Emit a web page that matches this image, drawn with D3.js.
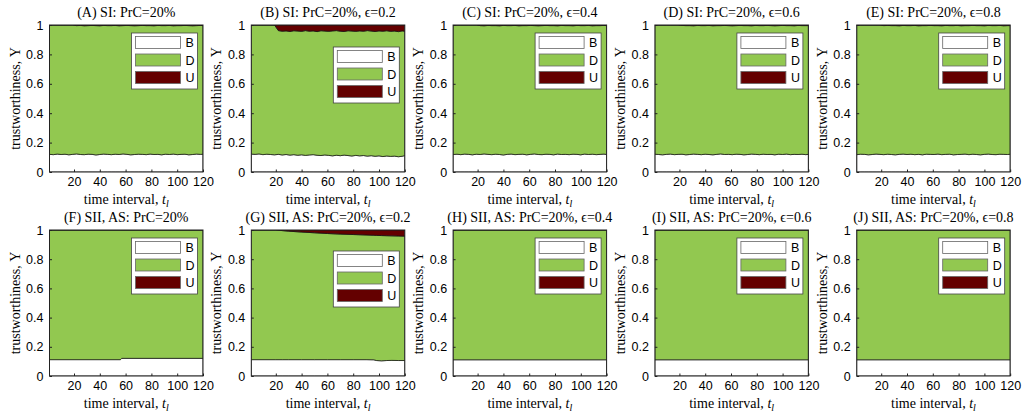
<!DOCTYPE html>
<html>
<head>
<meta charset="utf-8">
<script src="https://cdn.jsdelivr.net/npm/d3@7"></script>
<style>
	body { margin: 0; background: #fff; }
	.tick-label { font-family: "Liberation Sans", Arial, sans-serif; font-size: 12.5px; fill: #000; }
	.serif { font-family: "Liberation Serif", "Times New Roman", serif; font-size: 14px; fill: #000; }
</style>
</head>
<body>
<div id="chart"></div>
<script>
// time steps sampled for the SI runs (every 3rd interval)
var tSI = [
	1, 4, 7, 10, 13, 16, 19, 22, 25, 28,
	31, 34, 37, 40, 43, 46, 49, 52, 55, 58,
	61, 64, 67, 70, 73, 76, 79, 82, 85, 88,
	91, 94, 97, 100, 103, 106, 109, 112, 115, 118,
	120
];

// share of B (bottom, white) and U (top, dark red) per panel; D fills the rest
var bA = [
	0.120, 0.118, 0.122, 0.119, 0.121, 0.117, 0.120, 0.123, 0.119, 0.118,
	0.121, 0.120, 0.116, 0.119, 0.122, 0.120, 0.118, 0.121, 0.119, 0.123,
	0.120, 0.117, 0.119, 0.121, 0.120, 0.118, 0.122, 0.119, 0.120, 0.117,
	0.121, 0.119, 0.122, 0.118, 0.120, 0.121, 0.117, 0.119, 0.122, 0.120,
	0.121
];
var uA = [
	0, 0, 0, 0, 0, 0, 0, 0.004, 0.003, 0.005,
	0.004, 0.003, 0.004, 0.005, 0.003, 0.004, 0.004, 0.003, 0.005, 0.004,
	0.003, 0.004, 0.005, 0.004, 0.003, 0.004, 0.004, 0.005, 0.003, 0.004,
	0.004, 0.003, 0.005, 0.004, 0.004, 0.003, 0.004, 0.005, 0.004, 0.003,
	0.004
];
var bB = [
	0.122, 0.120, 0.123, 0.118, 0.121, 0.119, 0.117, 0.120, 0.116, 0.119,
	0.115, 0.118, 0.114, 0.117, 0.113, 0.116, 0.118, 0.114, 0.112, 0.116,
	0.113, 0.110, 0.114, 0.111, 0.115, 0.112, 0.109, 0.113, 0.110, 0.112,
	0.108, 0.111, 0.107, 0.110, 0.105, 0.109, 0.106, 0.108, 0.104, 0.107,
	0.112
];
var uB = [
	0, 0, 0, 0, 0, 0, 0, 0.038, 0.042, 0.040,
	0.044, 0.039, 0.041, 0.043, 0.038, 0.042, 0.040, 0.045, 0.039, 0.041,
	0.043, 0.040, 0.038, 0.042, 0.044, 0.039, 0.041, 0.043, 0.040, 0.042,
	0.038, 0.041, 0.044, 0.040, 0.042, 0.039, 0.043, 0.041, 0.045, 0.040,
	0.042
];
var bC = [
	0.119, 0.121, 0.118, 0.122, 0.120, 0.117, 0.121, 0.119, 0.123, 0.120,
	0.118, 0.121, 0.119, 0.116, 0.120, 0.122, 0.118, 0.120, 0.121, 0.117,
	0.120, 0.123, 0.119, 0.118, 0.121, 0.120, 0.117, 0.122, 0.119, 0.120,
	0.118, 0.121, 0.120, 0.117, 0.122, 0.119, 0.121, 0.118, 0.120, 0.122,
	0.119
];
var uC = [
	0, 0, 0, 0, 0, 0, 0, 0.004, 0.005, 0.003,
	0.004, 0.004, 0.005, 0.003, 0.004, 0.004, 0.003, 0.005, 0.004, 0.004,
	0.003, 0.004, 0.005, 0.004, 0.003, 0.004, 0.004, 0.005, 0.003, 0.004,
	0.004, 0.005, 0.003, 0.004, 0.004, 0.003, 0.005, 0.004, 0.004, 0.003,
	0.004
];
var bD = [
	0.121, 0.119, 0.117, 0.120, 0.122, 0.118, 0.120, 0.121, 0.117, 0.119,
	0.122, 0.120, 0.118, 0.121, 0.119, 0.117, 0.120, 0.123, 0.119, 0.120,
	0.118, 0.121, 0.120, 0.117, 0.119, 0.122, 0.120, 0.118, 0.121, 0.119,
	0.120, 0.117, 0.121, 0.119, 0.122, 0.118, 0.120, 0.119, 0.121, 0.118,
	0.120
];
var uD = [
	0, 0, 0, 0, 0, 0, 0, 0.003, 0.004, 0.004,
	0.005, 0.003, 0.004, 0.004, 0.003, 0.005, 0.004, 0.004, 0.003, 0.004,
	0.005, 0.004, 0.003, 0.004, 0.004, 0.005, 0.003, 0.004, 0.004, 0.003,
	0.004, 0.005, 0.004, 0.003, 0.004, 0.004, 0.005, 0.003, 0.004, 0.004,
	0.004
];
var bE = [
	0.118, 0.121, 0.120, 0.117, 0.119, 0.122, 0.120, 0.118, 0.121, 0.119,
	0.117, 0.120, 0.122, 0.119, 0.121, 0.118, 0.120, 0.117, 0.121, 0.120,
	0.119, 0.122, 0.118, 0.120, 0.121, 0.117, 0.119, 0.120, 0.122, 0.118,
	0.121, 0.119, 0.117, 0.120, 0.122, 0.119, 0.118, 0.121, 0.120, 0.119,
	0.121
];
var uE = [
	0, 0, 0, 0, 0, 0, 0, 0.004, 0.003, 0.004,
	0.004, 0.005, 0.003, 0.004, 0.004, 0.003, 0.005, 0.004, 0.004, 0.003,
	0.004, 0.004, 0.005, 0.003, 0.004, 0.004, 0.003, 0.005, 0.004, 0.004,
	0.003, 0.004, 0.004, 0.005, 0.003, 0.004, 0.004, 0.003, 0.005, 0.004,
	0.004
];

// SII, AS runs are smooth, so only the break points are kept
var tF = [1, 56, 57, 120];
var bF = [0.112, 0.112, 0.121, 0.121];
var uF = [0, 0, 0, 0];

var tG = [1, 20, 25, 30, 40, 50, 60, 70, 80, 90, 96, 98, 102, 106, 110, 115, 120];
var bG = [0.112, 0.112, 0.112, 0.112, 0.112, 0.112, 0.112, 0.112, 0.112, 0.112, 0.111, 0.106, 0.104, 0.106, 0.107, 0.106, 0.106];
var uG = [0, 0, 0.004, 0.008, 0.014, 0.019, 0.024, 0.028, 0.031, 0.034, 0.036, 0.037, 0.038, 0.039, 0.040, 0.041, 0.042];

var tFlat = [1, 120];
var bH = [0.111, 0.111];
var uH = [0, 0];
var bI = [0.111, 0.111];
var uI = [0, 0];
var bJ = [0.111, 0.111];
var uJ = [0, 0];

var xTicks = [20, 40, 60, 80, 100, 120];
var yTicks = [0, 0.2, 0.4, 0.6, 0.8, 1];
var legendKeys = ['B', 'D', 'U'];

var panels = [
	{title: '(A) SI: PrC=20%', t: tSI, b: bA, u: uA},
	{title: '(B) SI: PrC=20%, \u03f5=0.2', t: tSI, b: bB, u: uB, lowLegend: true},
	{title: '(C) SI: PrC=20%, \u03f5=0.4', t: tSI, b: bC, u: uC},
	{title: '(D) SI: PrC=20%, \u03f5=0.6', t: tSI, b: bD, u: uD},
	{title: '(E) SI: PrC=20%, \u03f5=0.8', t: tSI, b: bE, u: uE},
	{title: '(F) SII, AS: PrC=20%', t: tF, b: bF, u: uF},
	{title: '(G) SII, AS: PrC=20%, \u03f5=0.2', t: tG, b: bG, u: uG, lowLegend: true},
	{title: '(H) SII, AS: PrC=20%, \u03f5=0.4', t: tFlat, b: bH, u: uH},
	{title: '(I) SII, AS: PrC=20%, \u03f5=0.6', t: tFlat, b: bI, u: uI},
	{title: '(J) SII, AS: PrC=20%, \u03f5=0.8', t: tFlat, b: bJ, u: uJ}
];

var colors = {B: '#ffffff', D: '#92c850', U: '#640000'};

var svg = d3.select('#chart')
	.append('svg')
	.attr('width', 1025)
	.attr('height', 417);

function drawPanel(p, i) {
	var col = i % 5, row = Math.floor(i / 5);
	var left = 49.5 + col * 201.8;
	var top = row ? 230 : 25;
	var width = 153.5;
	var height = row ? 146 : 147;

	var x = d3.scaleLinear().domain([1, 120]).range([0, width]);
	var y = d3.scaleLinear().domain([0, 1]).range([height, 0]);

	var g = svg.append('g')
		.attr('transform', 'translate(' + left + ',' + top + ')');

	var clipId = 'clip' + i;
	g.append('clipPath').attr('id', clipId)
		.append('rect').attr('width', width).attr('height', height);

	var rows = p.t.map(function(t, k) { return {t: t, b: p.b[k], u: p.u[k]}; });

	var areaB = d3.area()
		.x(function(d) { return x(d.t); })
		.y0(function() { return y(0); })
		.y1(function(d) { return y(d.b); });
	var areaD = d3.area()
		.x(function(d) { return x(d.t); })
		.y0(function(d) { return y(d.b); })
		.y1(function(d) { return y(1 - d.u); });
	var areaU = d3.area()
		.x(function(d) { return x(d.t); })
		.y0(function(d) { return y(1 - d.u); })
		.y1(function() { return y(1); });

	var plot = g.append('g').attr('clip-path', 'url(#' + clipId + ')');
	[[areaB, colors.B], [areaD, colors.D], [areaU, colors.U]].forEach(function(a) {
		plot.append('path')
			.datum(rows)
			.attr('fill', a[1])
			.attr('stroke', '#111')
			.attr('stroke-width', 0.7)
			.attr('d', a[0]);
	});

	// inward ticks like matlab
	var xAxis = d3.axisBottom(x).tickValues(xTicks).tickSizeInner(-2.5).tickSizeOuter(0).tickPadding(5);
	var ax = g.append('g')
		.attr('transform', 'translate(0,' + height + ')')
		.call(xAxis);
	ax.select('.domain').remove();
	ax.selectAll('line').attr('stroke', '#222');
	ax.selectAll('text').attr('class', 'tick-label').attr('dy', '0.71em').attr('y', 5.5);

	var yAxis = d3.axisLeft(y).tickValues(yTicks).tickSizeInner(-2.5).tickSizeOuter(0).tickPadding(6)
		.tickFormat(function(v) { return v === 0 || v === 1 ? d3.format('d')(v) : d3.format('.1f')(v); });
	var ay = g.append('g').call(yAxis);
	ay.select('.domain').remove();
	ay.selectAll('line').attr('stroke', '#222');
	ay.selectAll('text').attr('class', 'tick-label').attr('x', -6);

	g.append('rect')
		.attr('width', width)
		.attr('height', height)
		.attr('fill', 'none')
		.attr('stroke', '#222')
		.attr('stroke-width', 1);

	// legend
	var lw = 66, lh = 56;
	var lx = width - 5.5 - lw;
	var ly = p.lowLegend ? (row ? 21 : 22) : 8;
	var lg = g.append('g').attr('transform', 'translate(' + lx + ',' + ly + ')');
	lg.append('rect')
		.attr('width', lw)
		.attr('height', lh)
		.attr('fill', '#fff')
		.attr('stroke', '#444')
		.attr('stroke-width', 0.8);
	var keys = lg.selectAll('.key')
		.data(legendKeys).enter()
		.append('g')
		.attr('transform', function(d, k) { return 'translate(4,' + (3.5 + k * 17.5) + ')'; });
	keys.append('rect')
		.attr('width', 45)
		.attr('height', 12)
		.attr('fill', function(d) { return colors[d]; })
		.attr('stroke', '#666')
		.attr('stroke-width', 0.8);
	keys.append('text')
		.attr('class', 'tick-label')
		.attr('x', 50)
		.attr('y', 10.5)
		.text(function(d) { return d; });

	// titles and axis labels
	g.append('text')
		.attr('class', 'serif')
		.attr('x', width / 2)
		.attr('y', -8)
		.attr('text-anchor', 'middle')
		.text(p.title);

	var xl = g.append('text')
		.attr('class', 'serif')
		.attr('x', width / 2)
		.attr('y', height + 32)
		.attr('text-anchor', 'middle');
	xl.append('tspan').text('time interval, ');
	xl.append('tspan').attr('font-style', 'italic').text('t');
	xl.append('tspan').attr('font-style', 'italic').attr('font-size', '10px').attr('dy', 3).text('l');

	g.append('text')
		.attr('class', 'serif')
		.attr('transform', 'translate(-30,' + (height / 2) + ') rotate(-90)')
		.attr('text-anchor', 'middle')
		.text('trustworthiness, \u03a5');
}

panels.forEach(drawPanel);
</script>
</body>
</html>
